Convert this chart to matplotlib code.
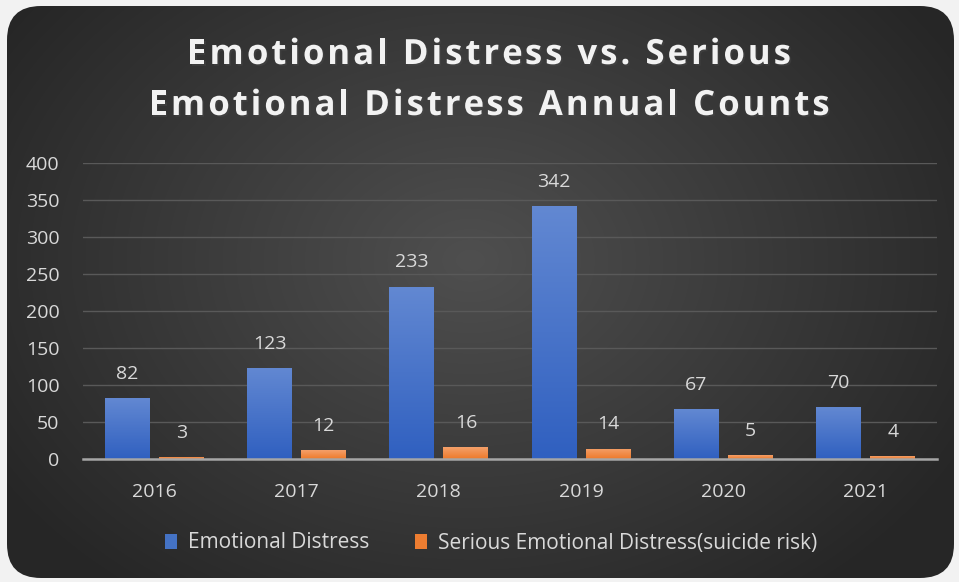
import numpy as np
import matplotlib

matplotlib.use("Agg")
import matplotlib.pyplot as plt
import matplotlib.patheffects as pe
from matplotlib.patches import FancyBboxPatch

years = ["2016", "2017", "2018", "2019", "2020", "2021"]
emotional = [82, 123, 233, 342, 67, 70]
serious = [3, 12, 16, 14, 5, 4]
series_names = ["Emotional Distress", "Serious Emotional Distress(suicide risk)"]
title_lines = ["Emotional Distress vs. Serious", "Emotional Distress Annual Counts"]

FONT = ["Open Sans", "DejaVu Sans"]
TXT = "#d9d9d9"
W, H = 959, 582

fig = plt.figure(figsize=(W / 100, H / 100), dpi=100)
fig.patch.set_facecolor("#f2f2f2")

# rounded dark card with radial gradient
bg = fig.add_axes([0, 0, 1, 1], zorder=-5)
bg.set_axis_off()
bg.set_xlim(0, W)
bg.set_ylim(H, 0)
yy, xx = np.mgrid[0:H, 0:W]
r = np.sqrt(((xx - 470) / 560.0) ** 2 + ((yy - 260) / 420.0) ** 2)
r = np.clip(r, 0, 1)
inner, outer = np.array([0.31, 0.31, 0.31]), np.array([0.15, 0.15, 0.15])
img = inner[None, None, :] * (1 - r[..., None]) + outer[None, None, :] * r[..., None]
card = FancyBboxPatch((7, 6), 947, 572, boxstyle="round,pad=0,rounding_size=34",
                      facecolor="none", edgecolor="none", transform=bg.transData)
bg.add_patch(card)
im = bg.imshow(img, extent=(0, W, H, 0), interpolation="bilinear", aspect="auto")
im.set_clip_path(card)

ax = fig.add_axes([83 / W, 1 - 459 / H, (937 - 83) / W, (459 - 163) / H])
ax.set_facecolor("none")

x = np.arange(len(years))
bw = 0.316
off = 0.19
b1 = ax.bar(x - off, emotional, bw, color="#4472c4", label=series_names[0], zorder=3)
b2 = ax.bar(x + off, serious, bw, color="#ed7d31", label=series_names[1], zorder=3)


def shade(bars, top, bottom):
    grad = np.linspace(0, 1, 64)[:, None, None]
    top, bottom = np.array(matplotlib.colors.to_rgb(top)), np.array(matplotlib.colors.to_rgb(bottom))
    g = top * (1 - grad) + bottom * grad
    for b in bars:
        x0, y0, w, h = b.get_x(), b.get_y(), b.get_width(), b.get_height()
        gi = ax.imshow(g, extent=(x0, x0 + w, y0, y0 + h), aspect="auto",
                       origin="upper", zorder=4, interpolation="bilinear")
        gi.set_clip_path(b)


shade(b1, "#6288d2", "#3060c0")
shade(b2, "#f4a06a", "#ee7a2a")

for bars, vals in ((b1, emotional), (b2, serious)):
    for b, v in zip(bars, vals):
        ax.annotate(str(v), (b.get_x() + b.get_width() / 2, v), xytext=(0, 11),
                    textcoords="offset points", ha="center", va="bottom",
                    color=TXT, fontsize=14, family=FONT)

ax.set_xlim(-0.5, len(years) - 0.5)
ax.set_ylim(0, 400)
ax.set_yticks(range(0, 401, 50))
ax.set_xticks(x)
ax.set_xticklabels(years)
ax.grid(axis="y", color="#595959", lw=1, zorder=0)
ax.set_axisbelow(True)
for s in ("top", "right", "left"):
    ax.spines[s].set_visible(False)
ax.spines["bottom"].set_color("#a6a6a6")
ax.spines["bottom"].set_linewidth(1.8)
ax.spines["bottom"].set_zorder(5)
ax.tick_params(axis="both", length=0, colors=TXT, labelsize=14)
ax.tick_params(axis="y", pad=17)
ax.tick_params(axis="x", pad=17)
for lab in ax.get_xticklabels() + ax.get_yticklabels():
    lab.set_family(FONT)

# title with extra letter spacing, drawn char by char
renderer = fig.canvas.get_renderer()
tkw = dict(color="#f2f2f2", fontsize=25, fontweight="bold", family=FONT,
           va="center", ha="left",
           path_effects=[pe.withSimplePatchShadow(offset=(1.2, -1.2), alpha=0.45)])
spacing = 3.0
for line, yc in zip(title_lines, (55, 106)):
    widths = []
    for i in range(len(line) + 1):
        t = fig.text(0, 0, line[:i] + "|", **tkw)
        bar_t = fig.text(0, 0, "|", **tkw)
        widths.append(t.get_window_extent(renderer).width - bar_t.get_window_extent(renderer).width)
        t.remove()
        bar_t.remove()
    total = widths[-1] + spacing * (len(line) - 1)
    x0 = 489 - total / 2
    for i, ch in enumerate(line):
        fig.text((x0 + widths[i] + spacing * i) / W, 1 - yc / H, ch, **tkw)

leg = fig.legend(handles=[b1, b2], loc="center", bbox_to_anchor=(491 / W, 1 - 543 / H),
                 ncol=2, frameon=False, handlelength=0.6, handleheight=0.7,
                 handletextpad=0.5, columnspacing=2.2, prop={"family": FONT, "size": 15})
for t in leg.get_texts():
    t.set_color(TXT)

fig.savefig("out.png", dpi=100, facecolor=fig.get_facecolor())
